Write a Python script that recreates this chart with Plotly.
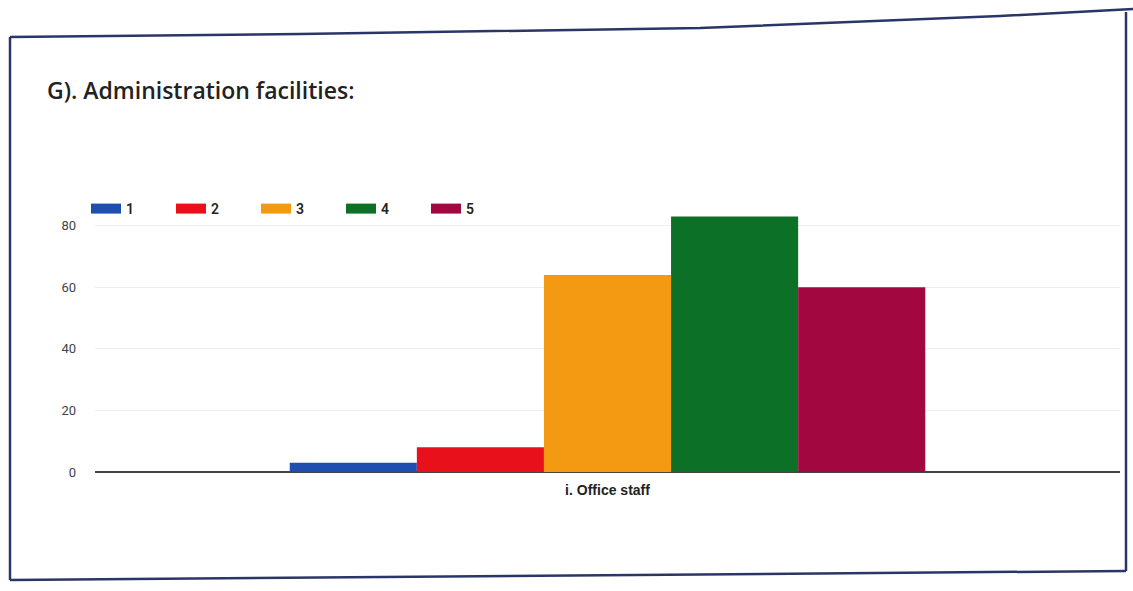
import plotly.graph_objects as go

# Survey responses for the administration-facilities question
category = ["i. Office staff"]
ratings = ["1", "2", "3", "4", "5"]
counts = [3, 8, 64, 83, 60]
colors = ["#1e4fb0", "#e8111b", "#f39a12", "#0c7026", "#a3073f"]
y_ticks = [0, 20, 40, 60, 80]

W, H = 1133, 591
L, R, T, B = 95, 13, 201, 119

fig = go.Figure()
for r, c, col in zip(ratings, counts, colors):
    fig.add_trace(go.Bar(
        x=category, y=[c], name=r, marker=dict(color=col, line=dict(width=0)),
        legendgroup=r, showlegend=False,
    ))
    # wide rectangular legend key
    fig.add_trace(go.Scatter(
        x=[None], y=[None], mode="lines", name=r, legendgroup=r,
        line=dict(color=col, width=14),
    ))

pw, ph = W - L - R, H - T - B


def px2paper(x, y):
    return (x - L) / pw, (H - B - y) / ph


# outer frame of the card
frame_pts = [(10, 37), (300, 34), (700, 28), (1000, 16), (1133, 9)]
path = "M " + " L ".join(f"{px2paper(x, y)[0]},{px2paper(x, y)[1]}" for x, y in frame_pts)
fig.add_shape(type="path", path=path, xref="paper", yref="paper",
              line=dict(color="#2a3668", width=2.5))
for (x0, y0), (x1, y1) in [((10, 37), (10, 580)), ((10, 580), (1126, 571)), ((1126, 571), (1126, 12))]:
    a, b = px2paper(x0, y0)
    c, d = px2paper(x1, y1)
    fig.add_shape(type="line", x0=a, y0=b, x1=c, y1=d, xref="paper", yref="paper",
                  line=dict(color="#2a3668", width=2.5))

fig.update_layout(
    width=W, height=H,
    margin=dict(l=L, r=R, t=T, b=B, autoexpand=False),
    paper_bgcolor="white", plot_bgcolor="white",
    barmode="group", bargap=0.38, bargroupgap=0,
    font=dict(family="Roboto, Arial, sans-serif", color="#333333"),
    title=dict(text="G). Administration facilities:", x=47 / W, xanchor="left",
               y=1 - 91 / H, yanchor="middle",
               font=dict(family="Open Sans, sans-serif", size=23, weight=600, color="#222222")),
    legend=dict(orientation="h", xref="container", yref="container",
                x=86 / W, y=1 - 209 / H, xanchor="left", yanchor="middle",
                entrywidth=40, entrywidthmode="pixels", itemwidth=30,
                font=dict(size=14, weight=600, color="#222222"), bgcolor="rgba(0,0,0,0)"),
    xaxis=dict(showgrid=False, showline=False, ticks="", ticklabelstandoff=8,
               tickfont=dict(family="Arial, sans-serif", size=14, weight=600, color="#222222")),
    yaxis=dict(range=[0, 88], tickvals=y_ticks, showgrid=True, gridcolor="#eeeeee",
               zeroline=True, zerolinecolor="#444444", zerolinewidth=1.5,
               ticks="", ticklabelstandoff=18, tickfont=dict(size=13, color="#444444")),
)

fig.write_html("out.html")
